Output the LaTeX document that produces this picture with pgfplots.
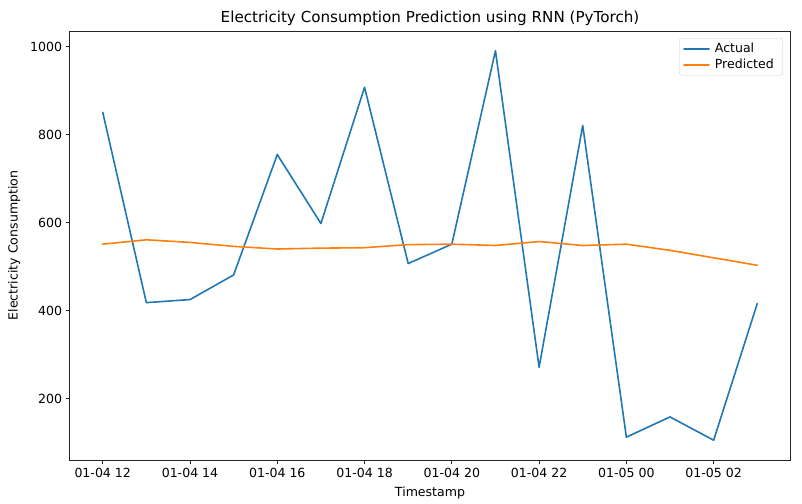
\documentclass[border=0pt]{standalone}
\usepackage{fontspec}
\setmainfont{DejaVu Sans}
\usepackage{pgfplots}
\usepackage{pgfplotstable}
\pgfplotsset{compat=1.18}
\definecolor{tabblue}{HTML}{1F77B4}
\definecolor{taborange}{HTML}{FF7F0E}

% hours after 01-04 12:00
\pgfplotstableread{
h  actual predicted
0  851    551
1  418    561
2  425    555
3  481    546
4  755    540
5  598    542
6  908    543
7  507    550
8  551    551
9  991    548
10 271    557
11 821    548
12 112    551
13 158    537
14 105    520
15 416    503
}\consumption

\begin{document}
\begin{tikzpicture}
\begin{axis}[
  scale only axis,
  width=720bp, height=429bp,
  xmin=-0.75, xmax=15.75,
  ymin=60, ymax=1036,
  xtick={0,2,...,14},
  xticklabels={01-04 12,01-04 14,01-04 16,01-04 18,01-04 20,01-04 22,01-05 00,01-05 02},
  ytick={200,400,600,800,1000},
  tick align=outside, tick pos=left,
  major tick length=4.4bp,
  tick style={black!85, line width=1bp},
  axis line style={black!85, line width=1bp},
  ticklabel style={font=\fontsize{12.6}{15}\selectfont},
  /pgf/number format/assume math mode=true,
  /pgf/number format/1000 sep={},
  title={Electricity Consumption Prediction using RNN (PyTorch)},
  title style={font=\fontsize{15.2}{18}\selectfont, yshift=-4bp},
  xlabel={Timestamp}, ylabel={Electricity Consumption},
  label style={font=\fontsize{12.6}{15}\selectfont},
  xlabel style={yshift=-3bp},
  ylabel style={yshift=3bp},
  legend style={at={(1,1)}, anchor=north east, xshift=-7bp, yshift=-7bp,
    draw=black!20, rounded corners=2.5bp, fill=white, fill opacity=0.8,
    text opacity=1, font=\fontsize{12.6}{15}\selectfont,
    inner xsep=4bp, inner ysep=3bp, row sep=1bp,
    nodes={inner xsep=5bp}},
  legend cell align=left,
  legend image code/.code={\draw[#1] (0bp,0bp) -- (25bp,0bp);},
]
\addplot[tabblue, line width=1.6bp, line join=round, line cap=round] table[x=h, y=actual] {\consumption};
\addlegendentry{Actual}
\addplot[taborange, line width=1.6bp, line join=round, line cap=round] table[x=h, y=predicted] {\consumption};
\addlegendentry{Predicted}
\end{axis}
\path[use as bounding box] ([xshift=-70bp,yshift=-44bp]current axis.south west)
  rectangle ([xshift=12bp,yshift=31bp]current axis.north east);
\end{tikzpicture}
\end{document}
